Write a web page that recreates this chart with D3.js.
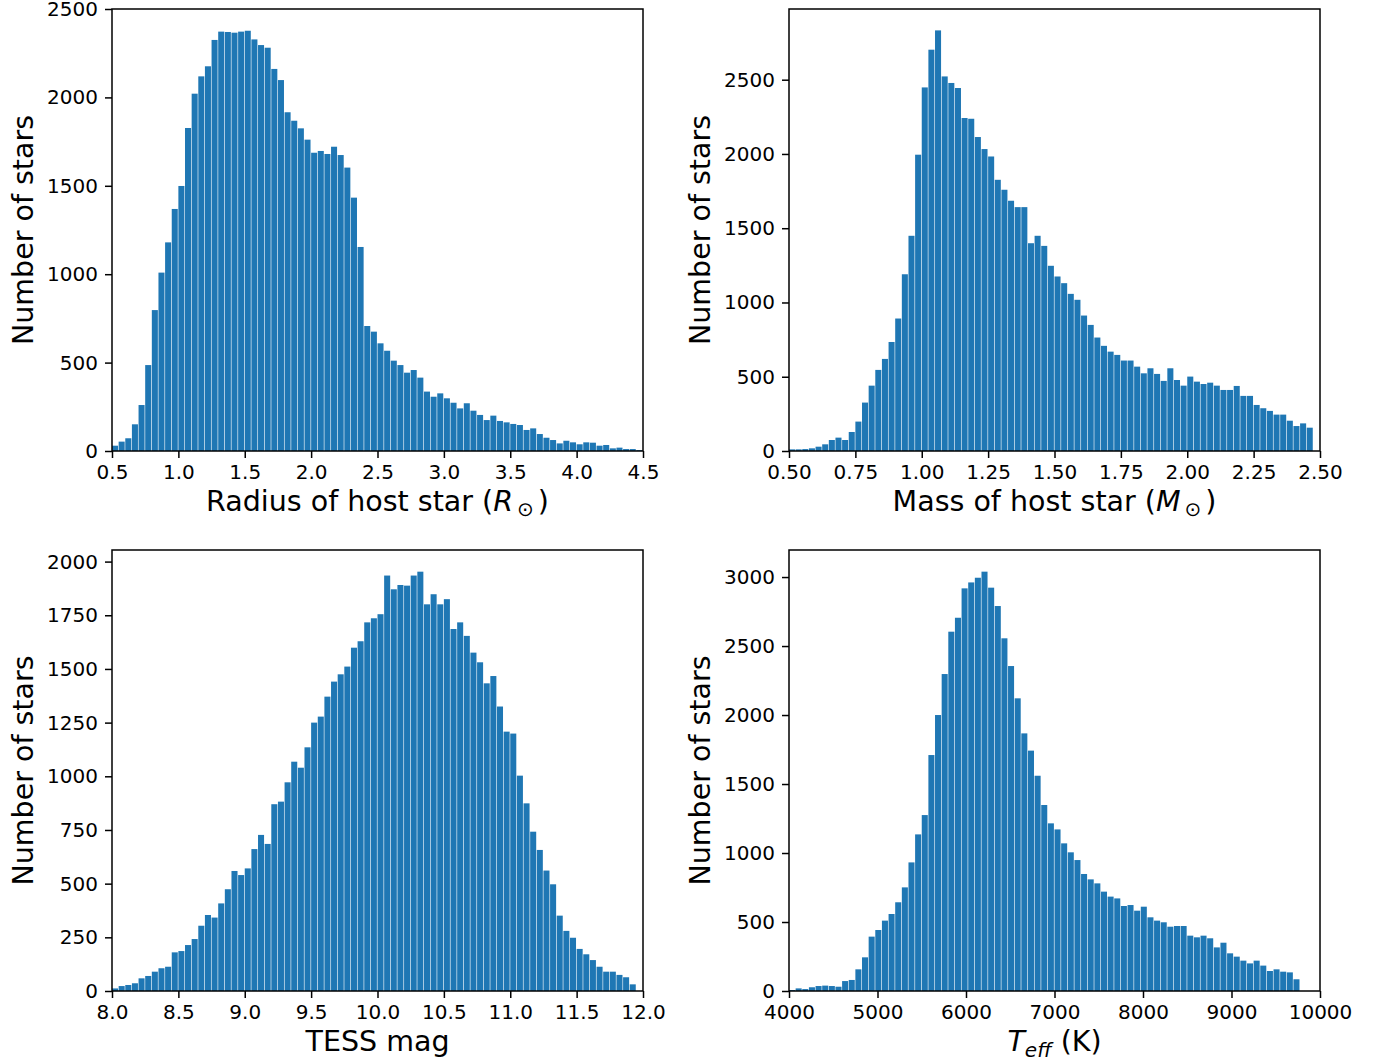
<!DOCTYPE html>
<html>
<head>
<meta charset="utf-8">
<script src="https://cdn.jsdelivr.net/npm/d3@7"></script>
<style>
  html, body { margin: 0; padding: 0; background: #fff; }
  svg { display: block; }
  text { font-family: "DejaVu Sans", sans-serif; fill: #000; }
</style>
</head>
<body>
<svg id="chart" width="1382" height="1063"></svg>
<script>
// ---------- DATA (80 equal-width bins per panel) ----------
const radiusRange = [0.5, 4.5];
const radiusCounts = [30,53,72,151,260,486,797,1009,1180,1369,
  1499,1827,2021,2119,2176,2325,2372,2370,2366,2372,
  2377,2328,2296,2281,2161,2098,1916,1868,1825,1761,
  1687,1697,1680,1721,1674,1603,1433,1154,707,675,
  609,567,511,486,443,458,415,336,307,326,
  298,273,241,270,228,204,175,200,170,162,
  153,147,119,128,96,75,62,43,58,49,
  38,49,47,30,34,15,19,11,11,5];
const radiusXTicks = [0.5,1.0,1.5,2.0,2.5,3.0,3.5,4.0,4.5];
const radiusYTicks = [0,500,1000,1500,2000,2500];
const radiusYMax = 2500;

const massRange = [0.5, 2.5];
const massCounts = [11,11,13,18,29,45,74,90,74,128,
  198,326,440,546,620,734,892,1190,1449,1995,
  2448,2702,2832,2522,2478,2444,2242,2237,2114,2033,
  1983,1826,1759,1685,1642,1642,1399,1449,1381,1247,
  1175,1130,1058,1018,912,849,764,708,669,647,
  609,609,568,523,557,519,472,557,478,440,
  501,467,451,460,440,411,411,438,371,371,
  310,288,270,245,245,204,168,186,157,0];
const massXTicks = [0.5,0.75,1.0,1.25,1.5,1.75,2.0,2.25,2.5];
const massYTicks = [0,500,1000,1500,2000,2500];
const massYMax = 2976;

const tessRange = [8.0, 12.0];
const tessCounts = [12,23,28,36,59,70,90,106,113,180,
  186,214,242,304,354,342,408,474,559,540,
  571,661,727,685,870,882,972,1068,1040,1135,
  1250,1278,1371,1441,1475,1511,1599,1629,1717,1736,
  1755,1935,1871,1891,1888,1935,1953,1801,1848,1801,
  1825,1686,1717,1654,1576,1531,1433,1467,1325,1208,
  1199,1003,874,742,657,561,497,351,280,248,
  196,171,144,113,90,90,75,64,31,0];
const tessXTicks = [8.0,8.5,9.0,9.5,10.0,10.5,11.0,11.5,12.0];
const tessYTicks = [0,250,500,750,1000,1250,1500,1750,2000];
const tessYMax = 2054;

const teffRange = [4000, 10000];
const teffCounts = [7,19,14,27,36,39,36,31,72,80,
  157,244,394,442,510,558,643,751,932,1135,
  1275,1710,2000,2297,2604,2705,2918,2961,2995,3039,
  2923,2790,2556,2355,2121,1867,1742,1560,1348,1215,
  1171,1070,1005,949,848,809,780,720,684,671,
  616,623,582,611,534,510,498,466,471,471,
  401,389,401,382,316,350,273,249,220,200,
  220,184,145,157,140,135,85,0,0,0];
const teffXTicks = [4000,5000,6000,7000,8000,9000,10000];
const teffYTicks = [0,500,1000,1500,2000,2500,3000];
const teffYMax = 3196;

const yLabel = "Number of stars";

// ---------- LAYOUT ----------
const svg = d3.select("#chart");
const barColor = "#1f77b4";
const tickFont = 20;
const labelFont = 28.5;
const subFont = 20;

const panels = [
  { range: radiusRange, counts: radiusCounts, xTicks: radiusXTicks, yTicks: radiusYTicks, yMax: radiusYMax,
    fmt: d3.format(".1f"), box: [112, 9, 643, 451], label: "radius" },
  { range: massRange, counts: massCounts, xTicks: massXTicks, yTicks: massYTicks, yMax: massYMax,
    fmt: d3.format(".2f"), box: [789, 9, 1320, 451], label: "mass" },
  { range: tessRange, counts: tessCounts, xTicks: tessXTicks, yTicks: tessYTicks, yMax: tessYMax,
    fmt: d3.format(".1f"), box: [112, 550, 643, 991], label: "tess" },
  { range: teffRange, counts: teffCounts, xTicks: teffXTicks, yTicks: teffYTicks, yMax: teffYMax,
    fmt: d3.format("d"), box: [789, 550, 1320, 991], label: "teff" }
];

panels.forEach(p => {
  const [x0, y0, x1, y1] = p.box;
  const x = d3.scaleLinear().domain(p.range).range([x0, x1]);
  const y = d3.scaleLinear().domain([0, p.yMax]).range([y1, y0]);
  const n = p.counts.length;
  const bw = (p.range[1] - p.range[0]) / n;
  const bins = p.counts.map((c, i) => ({ a: p.range[0] + i * bw, b: p.range[0] + (i + 1) * bw, c }));

  const g = svg.append("g");

  // bars
  g.append("g").selectAll("rect").data(bins.filter(d => d.c > 0)).join("rect")
    .attr("x", d => x(d.a))
    .attr("width", d => Math.max(0, x(d.b) - x(d.a) - 0.6))
    .attr("y", d => y(d.c))
    .attr("height", d => y(0) - y(d.c))
    .attr("fill", barColor);

  // axes
  const xAxis = d3.axisBottom(x).tickValues(p.xTicks).tickFormat(p.fmt)
    .tickSize(7).tickPadding(7).tickSizeOuter(0);
  const yAxis = d3.axisLeft(y).tickValues(p.yTicks).tickFormat(d3.format("d"))
    .tickSize(7).tickPadding(7).tickSizeOuter(0);

  const gx = g.append("g").attr("transform", `translate(0,${y1})`).call(xAxis);
  const gy = g.append("g").attr("transform", `translate(${x0},0)`).call(yAxis);
  [gx, gy].forEach(a => {
    a.select(".domain").remove();
    a.selectAll(".tick line").attr("stroke", "#000").attr("stroke-width", 1.5);
    a.selectAll(".tick text").attr("font-size", tickFont).attr("fill", "#000")
      .style("font-family", '"DejaVu Sans", sans-serif');
  });

  // frame
  g.append("rect").attr("x", x0).attr("y", y0).attr("width", x1 - x0).attr("height", y1 - y0)
    .attr("fill", "none").attr("stroke", "#000").attr("stroke-width", 1.5);

  // y label
  const cy = (y0 + y1) / 2;
  g.append("text")
    .attr("transform", `translate(${x0 - 79},${cy}) rotate(-90)`)
    .attr("text-anchor", "middle")
    .attr("font-size", labelFont)
    .text(yLabel);

  // x label
  const cx = (x0 + x1) / 2;
  const t = g.append("text")
    .attr("x", cx).attr("y", y1 + 60)
    .attr("text-anchor", "middle")
    .attr("font-size", labelFont);
  if (p.label === "radius") {
    t.append("tspan").text("Radius of host star (");
    t.append("tspan").attr("font-style", "italic").text("R");
    t.append("tspan").attr("font-size", subFont).attr("dy", 5).text("\u2009\u2299\u2009");
    t.append("tspan").attr("dy", -5).text(")");
  } else if (p.label === "mass") {
    t.append("tspan").text("Mass of host star (");
    t.append("tspan").attr("font-style", "italic").text("M");
    t.append("tspan").attr("font-size", subFont).attr("dy", 5).text("\u2009\u2299\u2009");
    t.append("tspan").attr("dy", -5).text(")");
  } else if (p.label === "tess") {
    t.text("TESS mag");
  } else {
    t.append("tspan").attr("font-style", "italic").text("T");
    t.append("tspan").attr("font-style", "italic").attr("font-size", subFont).attr("dy", 6).text("eff");
    t.append("tspan").attr("dy", -6).text(" (K)");
  }
});
</script>
</body>
</html>
